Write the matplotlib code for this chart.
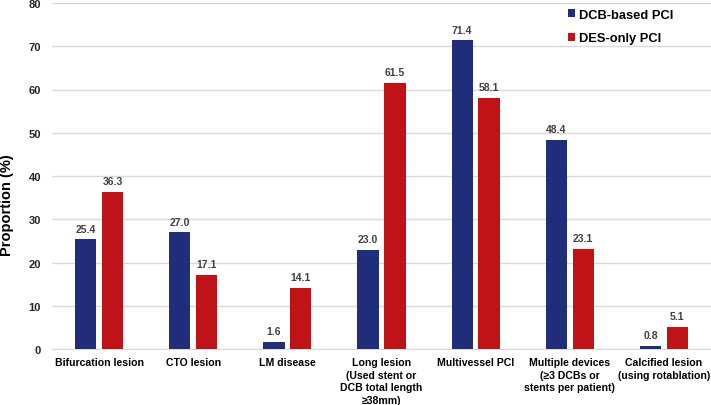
import matplotlib
matplotlib.use("Agg")
import matplotlib.pyplot as plt
import numpy as np

plt.rcParams['font.family'] = ['Liberation Sans', 'DejaVu Sans']

categories = ["Bifurcation lesion", "CTO lesion", "LM disease",
              "Long lesion\n(Used stent or\nDCB total length\n≥38mm)",
              "Multivessel PCI",
              "Multiple devices\n(≥3 DCBs or\nstents per patient)",
              "Calcified lesion\n(using rotablation)"]
dcb = [25.4, 27.0, 1.6, 23.0, 71.4, 48.4, 0.8]
des = [36.3, 17.1, 14.1, 61.5, 58.1, 23.1, 5.1]
series_names = ["DCB-based PCI", "DES-only PCI"]
yticks = [0, 10, 20, 30, 40, 50, 60, 70, 80]

blue = "#1F2D7A"
red = "#C01318"

fig = plt.figure(figsize=(7.11, 4.06), dpi=100)
# axes: left 52px, right 711px, bottom y=350px, top y=4px
ax = fig.add_axes([52/711, (406-350)/406, (711-52)/711, 346/406])

x = np.arange(len(categories))
w = 0.226
off = 0.143
b1 = ax.bar(x - off, dcb, w, color=blue, label=series_names[0], zorder=3)
b2 = ax.bar(x + off, des, w, color=red, label=series_names[1], zorder=3)

for bars, vals in ((b1, dcb), (b2, des)):
    for r, v in zip(bars, vals):
        ax.text(r.get_x() + r.get_width()/2, v + 1.3, f"{v:.1f}", ha='center', va='bottom',
                fontsize=7.5, fontweight='bold', color='#404040')

ax.set_ylim(0, 80)
ax.set_xlim(-0.5, len(categories) - 0.5)
ax.set_yticks(yticks)
ax.set_yticklabels([str(t) for t in yticks], fontsize=8, fontweight='bold', color='#262626')
ax.set_xticks(x)
ax.set_xticklabels(categories, fontsize=7.6, fontweight='bold', color='#000000', linespacing=1.3)
ax.tick_params(axis='x', length=0, pad=6)
ax.tick_params(axis='y', length=0, pad=8)
ax.grid(axis='y', color='#D9D9D9', linewidth=1, zorder=0)
for s in ['top', 'right', 'left']:
    ax.spines[s].set_visible(False)
ax.spines['bottom'].set_color('#D9D9D9')
ax.set_ylabel("Proportion (%)", fontsize=10.5, fontweight='bold')
ax.yaxis.set_label_coords(-0.057, 0.42)

leg = ax.legend(loc='upper left', bbox_to_anchor=((562-52)/659, 1.0), frameon=False,
                prop={'weight': 'bold', 'size': 9.3}, handlelength=0.55, handleheight=0.55,
                handletextpad=0.35, labelspacing=0.9, borderaxespad=0.05)

fig.savefig("out.png", dpi=100)
